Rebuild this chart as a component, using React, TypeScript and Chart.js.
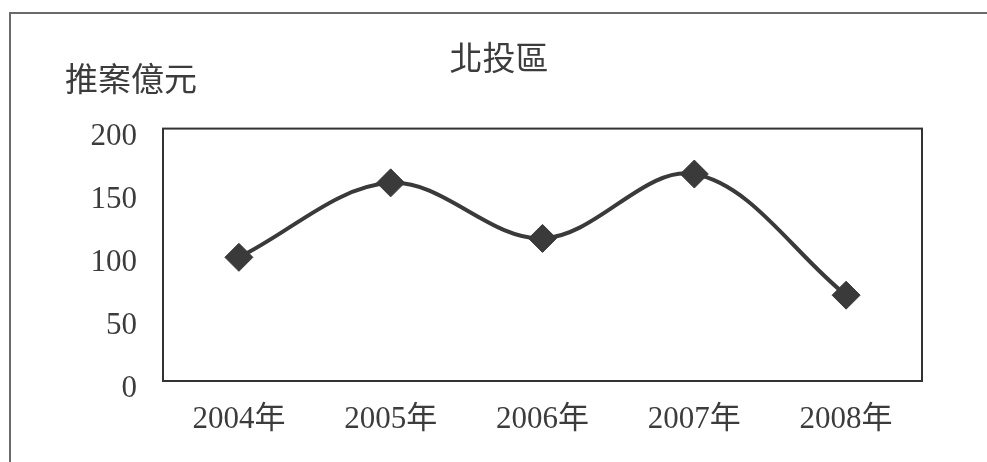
import React, { useEffect, useRef } from "react";
import { Chart, registerables } from "chart.js";

Chart.register(...registerables);

const chartTitle = "北投區";
const yAxisTitle = "推案億元";
const categories = ["2004年", "2005年", "2006年", "2007年", "2008年"];
const values = [98, 157, 113, 164, 68];
const yTicks = [0, 50, 100, 150, 200];

const W = 987;
const H = 462;
const INK = "#3a3a3a";
const TEXT = "#3c3c3c";
const FONT = "'Liberation Serif', 'Noto Sans CJK TC', serif";
const CJK = "'Noto Sans CJK TC', 'Noto Sans CJK SC', sans-serif";

const framePlugin = {
  id: "framePlugin",
  beforeDraw(chart: any) {
    const ctx = chart.ctx;
    ctx.save();
    ctx.fillStyle = "#ffffff";
    ctx.fillRect(0, 0, chart.width, chart.height);
    ctx.strokeStyle = "#6a6a6a";
    ctx.lineWidth = 2;
    ctx.beginPath();
    ctx.moveTo(10, chart.height);
    ctx.lineTo(10, 13);
    ctx.lineTo(chart.width, 13);
    ctx.stroke();
    ctx.restore();
  },
  beforeDatasetsDraw(chart: any) {
    const { ctx, chartArea } = chart;
    ctx.save();
    ctx.strokeStyle = "#333333";
    ctx.lineWidth = 2;
    ctx.strokeRect(chartArea.left, chartArea.top, chartArea.right - chartArea.left, chartArea.bottom - chartArea.top);
    ctx.restore();
  },
  afterDraw(chart: any) {
    const { ctx, chartArea } = chart;
    ctx.save();
    ctx.fillStyle = TEXT;
    ctx.font = `33px ${CJK}`;
    ctx.textAlign = "center";
    ctx.textBaseline = "middle";
    ctx.fillText(yAxisTitle, chartArea.left - 32, chartArea.top - 50);
    ctx.restore();
  },
};

export default function App() {
  const ref = useRef<HTMLCanvasElement | null>(null);

  useEffect(() => {
    if (!ref.current) return;
    const chart = new Chart(ref.current, {
      type: "line",
      data: {
        labels: categories,
        datasets: [
          {
            data: values,
            borderColor: INK,
            backgroundColor: INK,
            borderWidth: 4,
            tension: 0.35,
            pointStyle: "rectRot",
            pointRadius: 14,
            pointBorderWidth: 1,
            pointBackgroundColor: INK,
            pointBorderColor: INK,
            fill: false,
          },
        ],
      },
      options: {
        responsive: false,
        animation: false,
        devicePixelRatio: 1,
        layout: { padding: { left: 76, right: 65, top: 0, bottom: 0 } },
        plugins: {
          legend: { display: false },
          tooltip: { enabled: false },
          title: {
            display: true,
            text: chartTitle,
            color: TEXT,
            font: { family: CJK, size: 33, weight: "normal" },
            padding: { top: 38, bottom: 51 },
          },
        },
        scales: {
          x: {
            offset: true,
            grid: { display: false, drawTicks: false },
            border: { display: false },
            ticks: {
              color: TEXT,
              font: { family: FONT, size: 31 },
              padding: 20,
              autoSkip: false,
              maxRotation: 0,
              minRotation: 0,
            },
            afterFit(scale: any) {
              scale.height = 81;
            },
          },
          y: {
            min: 0,
            max: 200,
            grid: { display: false, drawTicks: false },
            border: { display: false },
            afterBuildTicks(scale: any) {
              scale.ticks = yTicks.map((v) => ({ value: v }));
            },
            ticks: {
              color: TEXT,
              font: { family: FONT, size: 31 },
              padding: 26,
              labelOffset: 8,
            },
            afterFit(scale: any) {
              scale.width = 87;
            },
          },
        },
      },
      plugins: [framePlugin],
    });
    return () => chart.destroy();
  }, []);

  return (
    <div style={{ position: "fixed", left: 0, top: 0, width: W, height: H, background: "#fff" }}>
      <canvas ref={ref} width={W} height={H} style={{ width: W, height: H, display: "block" }} />
    </div>
  );
}
